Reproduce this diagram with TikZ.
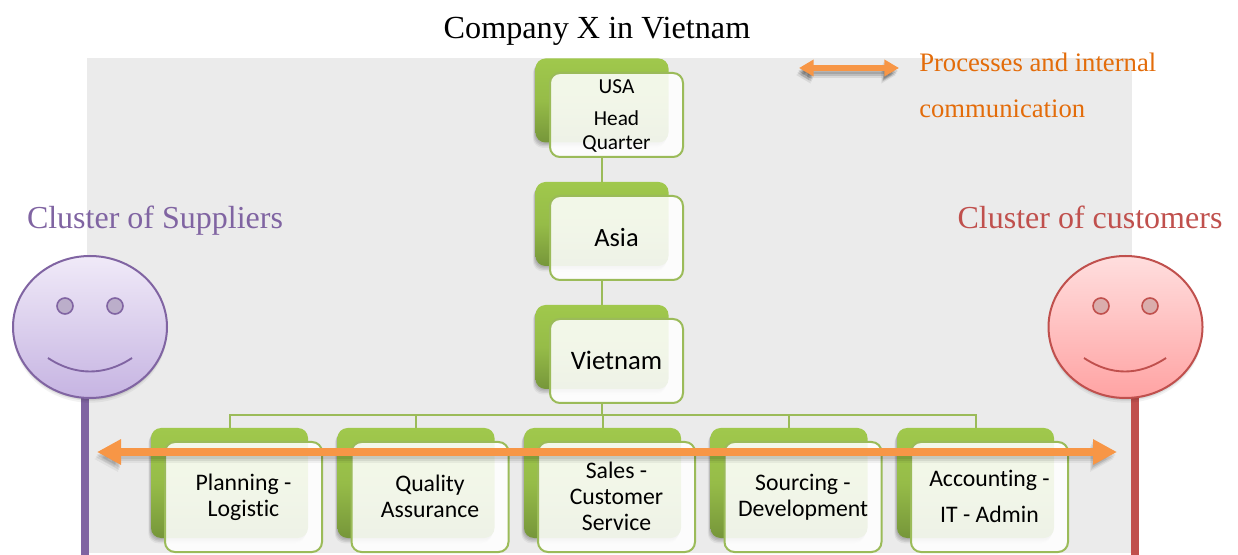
\documentclass[tikz,border=0pt]{standalone}
\usepackage{fontspec}
\setmainfont{Liberation Serif}
\newfontfamily\boxfont[Ligatures=NoCommon]{Carlito}
\usetikzlibrary{calc,arrows.meta,shadows,shapes.geometric}
\definecolor{panel}{HTML}{EBEBEB}
\definecolor{grn}{HTML}{9BBB59}
\definecolor{grntop}{HTML}{A0C84C}
\definecolor{grnmid}{HTML}{96BC48}
\definecolor{grnbot}{HTML}{76963A}
\definecolor{org}{HTML}{F79646}
\definecolor{orgtxt}{HTML}{E36C0A}
\definecolor{purp}{HTML}{8064A2}
\definecolor{redd}{HTML}{C0504D}
\definecolor{purptop}{HTML}{F0EAF8}
\definecolor{purpbot}{HTML}{C6B4E2}
\definecolor{redtop}{HTML}{FFDEDE}
\definecolor{redbot}{HTML}{FFA3A3}
\tikzset{
  x=0.75pt,y=-0.75pt,
  softshadow/.style={
    general shadow={shadow xshift=-0.5pt,shadow yshift=-1pt,fill=black,opacity=0.07},
    general shadow={shadow xshift=-1pt,shadow yshift=-2pt,fill=black,opacity=0.08},
    general shadow={shadow xshift=-1.5pt,shadow yshift=-3pt,fill=black,opacity=0.07},
    general shadow={shadow xshift=-2pt,shadow yshift=-4pt,fill=black,opacity=0.05}},
  faceshadow/.style={
    general shadow={shadow xshift=0pt,shadow yshift=-1pt,fill=black,opacity=0.09},
    general shadow={shadow xshift=0pt,shadow yshift=-2pt,fill=black,opacity=0.08},
    general shadow={shadow xshift=0pt,shadow yshift=-3.5pt,fill=black,opacity=0.05}},
  backbox/.style={rectangle,rounded corners=7.5pt,inner sep=0pt,minimum height=#1*0.75pt,
    top color=grntop,bottom color=grnbot,middle color=grnmid,draw=none,softshadow},
  frontbox/.style={rectangle,rounded corners=7.5pt,inner sep=0pt,minimum height=#1*0.75pt,
    draw=grn,line width=1.5pt,fill=white,fill opacity=0.88,draw opacity=1,text opacity=1,align=center},
  wide/.style={minimum width=157*0.75pt},
  narrow/.style={minimum width=133*0.75pt},
  link/.style={draw=grn,line width=1.5pt},
  flowarrow/.style={draw=org,line width=6.5pt,{Triangle[length=18pt,width=18pt]}-{Triangle[length=18pt,width=18pt]}},
  flowshadow/.style={draw=black,opacity=#1,line width=6.5pt,{Triangle[length=18pt,width=18pt]}-{Triangle[length=18pt,width=18pt]}},
  smallarrow/.style={draw=org,line width=5pt,{Triangle[length=11pt,width=12pt]}-{Triangle[length=11pt,width=12pt]}},
  smallshadow/.style={draw=black,opacity=#1,line width=5pt,{Triangle[length=11pt,width=12pt]}-{Triangle[length=11pt,width=12pt]}},
  facepost/.style={line width=6pt},
  face/.style={ellipse,inner sep=0pt,minimum width=154*0.75pt,minimum height=142*0.75pt,line width=1.5pt,faceshadow},
  eye/.style={circle,inner sep=0pt,minimum size=16*0.75pt,line width=1.2pt},
  titletext/.style={font=\fontsize{24.15}{28}\selectfont,inner sep=0pt},
  clustertext/.style={font=\fontsize{24}{28}\selectfont,inner sep=0pt},
  legendtext/.style={font=\fontsize{20}{24}\selectfont,inner sep=0pt,text=orgtxt,anchor=west},
  boxtxt/.style={inner sep=0pt,align=center,font=\boxfont\fontsize{17.8}{19.5}\selectfont},
  toptxt/.style={inner sep=0pt,align=center,font=\boxfont\fontsize{16}{18}\selectfont},
  bigtxt/.style={inner sep=0pt,font=\boxfont\fontsize{#1}{22}\selectfont},
}
\begin{document}
\begin{tikzpicture}
\useasboundingbox (0,0) rectangle (1238,555);
% panel
\fill[panel] (87,58) rectangle (1132,553);
% posts
\coordinate (postPb) at (85,555);
\coordinate (postRb) at (1135,555);
% back boxes
\node[backbox=84,narrow] (hqb) at (602,100.5) {};
\node[backbox=84,narrow] (asb) at (602,224) {};
\node[backbox=84,narrow] (vnb) at (602,347) {};
\foreach \n/\cx in {pl/229.5,qa/416,sa/602.5,so/789,ac/975.5}
  \node[backbox=110,wide] (\n b) at (\cx,483) {};
% front boxes
\node[frontbox=84,narrow] (hqf) at (616.5,115) {};
\node[frontbox=84,narrow] (asf) at (616.5,238) {};
\node[frontbox=84,narrow] (vnf) at (616.5,361) {};
\foreach \n/\cx in {pl/243.5,qa/430,sa/616.5,so/803,ac/989.5}
  \node[frontbox=110,wide] (\n f) at (\cx,497) {};
% connectors
\draw[link] (hqb.south |- hqf.south) -- (asb.north);
\draw[link] (asb.south |- asf.south) -- (vnb.north);
\coordinate (bus) at (0,415);
\draw[link] (vnb.south |- vnf.south) -- (vnb.south |- bus);
\draw[link] (plb.north) -- (plb.north |- bus) -- (acb.north |- bus) -- (acb.north);
\foreach \n in {qa,sa,so}
  \draw[link] (\n b.north) -- (\n b.north |- bus);
% box texts
\node[toptxt] (t0) at (616.5,87) {USA};
\node[toptxt] (t1) at (616.5,132) {Head\\Quarter};
\node[bigtxt=19.8] (t2) at (616.5,237.5) {Asia};
\node[bigtxt=20] (t3) at (616.5,360) {Vietnam};
\node[boxtxt] (t4) at (243.5,497.5) {Planning -\\Logistic};
\node[boxtxt] (t5) at (430,496.5) {Quality\\Assurance};
\node[boxtxt] (t6) at (616.5,496.5) {Sales -\\Customer\\Service};
\node[boxtxt] (t7) at (803,497.5) {Sourcing -\\Development};
\node[boxtxt,font=\boxfont\fontsize{17.8}{27}\selectfont] (t8) at (989.5,496.5) {Accounting -\\IT - Admin};
% faces
\draw[purp,facepost] (85,398) -- (postPb);
\draw[redd,facepost] (1135,398) -- (postRb);
\node[face,draw=purp,top color=purptop,bottom color=purpbot] (pf) at (90,327) {};
\node[face,draw=redd,top color=redtop,bottom color=redbot] (rf) at (1125.5,327) {};
\node[eye,draw=purp,fill=purp!45!panel] (pe1) at (65,306) {};
\node[eye,draw=purp,fill=purp!45!panel] (pe2) at (115,306) {};
\node[eye,draw=redd,fill=redd!40!panel] (re1) at (1101,306) {};
\node[eye,draw=redd,fill=redd!40!panel] (re2) at (1150,306) {};
\draw[purp,line width=1.4pt] (48,358) .. controls (75,376) and (105,376) .. (132,358);
\draw[redd,line width=1.4pt] (1084,358) .. controls (1111,376) and (1139,376) .. (1166,358);
% main arrow
\coordinate (arrL) at (97,452);
\coordinate (arrR) at (1117,452);
\draw[flowshadow=0.07] ([shift={(-1,3)}]arrL) -- ([shift={(-1,3)}]arrR);
\draw[flowshadow=0.07] ([shift={(-2,5)}]arrL) -- ([shift={(-2,5)}]arrR);
\draw[flowshadow=0.05] ([shift={(-3,7)}]arrL) -- ([shift={(-3,7)}]arrR);
\draw[flowarrow] (arrL) -- (arrR);
% legend arrow
\coordinate (legL) at (799,68);
\coordinate (legR) at (899,68);
\draw[smallshadow=0.12] ([shift={(-1,3)}]legL) -- ([shift={(-1,3)}]legR);
\draw[smallshadow=0.12] ([shift={(-2,5)}]legL) -- ([shift={(-2,5)}]legR);
\draw[smallshadow=0.08] ([shift={(-3,7)}]legL) -- ([shift={(-3,7)}]legR);
\draw[smallarrow] (legL) -- (legR);
% titles
\node[titletext] (title) at (597,31.5) {Company X in Vietnam};
\node[clustertext,text=purp] (sup) at (155,220.5) {Cluster of Suppliers};
\node[clustertext,text=redd] (cus) at (1090,217) {Cluster of customers};
\node[legendtext] (l1) at (919,62) {Processes and internal};
\node[legendtext] (l2) at (919,109) {communication};
\end{tikzpicture}
\end{document}
